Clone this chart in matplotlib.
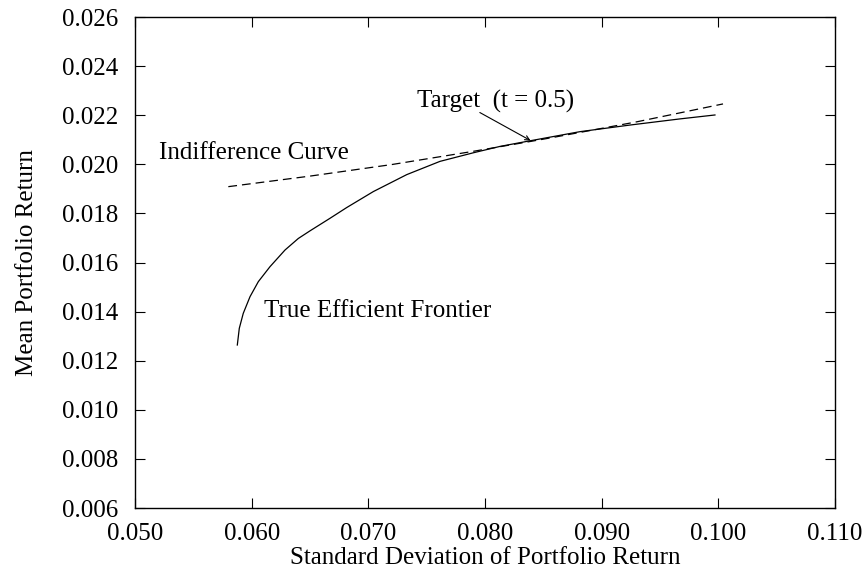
import matplotlib.pyplot as plt

plt.rcParams['font.family'] = ['Liberation Serif', 'DejaVu Serif']

# --- Efficient frontier (std dev, mean) ---
frontier_sd = [0.05877, 0.05894, 0.05928, 0.05986, 0.06057, 0.06157, 0.06286,
               0.06400, 0.06500, 0.06671, 0.06815, 0.07043, 0.07329, 0.07614,
               0.07900, 0.08129, 0.08377, 0.08814, 0.09243, 0.09671, 0.09971]
frontier_mean = [0.01264, 0.01332, 0.01393, 0.01461, 0.01522, 0.01583, 0.01651,
                 0.01698, 0.01729, 0.01780, 0.01824, 0.01889, 0.01958, 0.02012,
                 0.02047, 0.02073, 0.02095, 0.02133, 0.02160, 0.02185, 0.02201]

# --- Indifference curve ---
indiff_sd = [0.0580, 0.0650, 0.0720, 0.0790, 0.0840, 0.0860, 0.0930, 0.1004]
indiff_mean = [0.01909, 0.01952, 0.01999, 0.02053, 0.02094, 0.02111, 0.02173, 0.02246]

# tangency point
target_sd, target_mean = 0.0839, 0.02097

fig = plt.figure(figsize=(8.67, 5.73), dpi=100)
ax = fig.add_axes([0.1557, 0.1134, 0.8074, 0.8569])

ax.plot(frontier_sd, frontier_mean, color='black', lw=0.9)
ax.plot(indiff_sd, indiff_mean, color='black', lw=0.9, dashes=(7, 4))

ax.text(0.05206, 0.02046, 'Indifference Curve', fontsize=18, va='center')
ax.text(0.06106, 0.01402, 'True Efficient Frontier', fontsize=18, va='center')
ax.annotate('Target  (t = 0.5)', xy=(target_sd, target_mean),
            xytext=(0.07417, 0.02258), fontsize=18, va='center',
            arrowprops=dict(arrowstyle='->', color='black', lw=0.8,
                            shrinkA=0, shrinkB=0, mutation_scale=8,
                            patchA=None, relpos=(0.4, 0.0)))

ax.set_xlim(0.050, 0.110)
ax.set_ylim(0.006, 0.026)
ax.set_xticks([0.050, 0.060, 0.070, 0.080, 0.090, 0.100, 0.110])
ax.set_yticks([0.006, 0.008, 0.010, 0.012, 0.014, 0.016, 0.018, 0.020,
               0.022, 0.024, 0.026])
ax.xaxis.set_major_formatter(plt.FormatStrFormatter('%.3f'))
ax.yaxis.set_major_formatter(plt.FormatStrFormatter('%.3f'))
ax.tick_params(direction='in', length=7, width=0.8, top=True, right=True,
               labelsize=18)
ax.tick_params(axis='x', pad=11)
ax.tick_params(axis='y', pad=12)
for s in ax.spines.values():
    s.set_linewidth(1.0)

ax.set_xlabel('Standard Deviation of Portfolio Return', fontsize=18, labelpad=1)
ax.set_ylabel('Mean Portfolio Return', fontsize=18, labelpad=17)

fig.savefig('out.png', dpi=100)
